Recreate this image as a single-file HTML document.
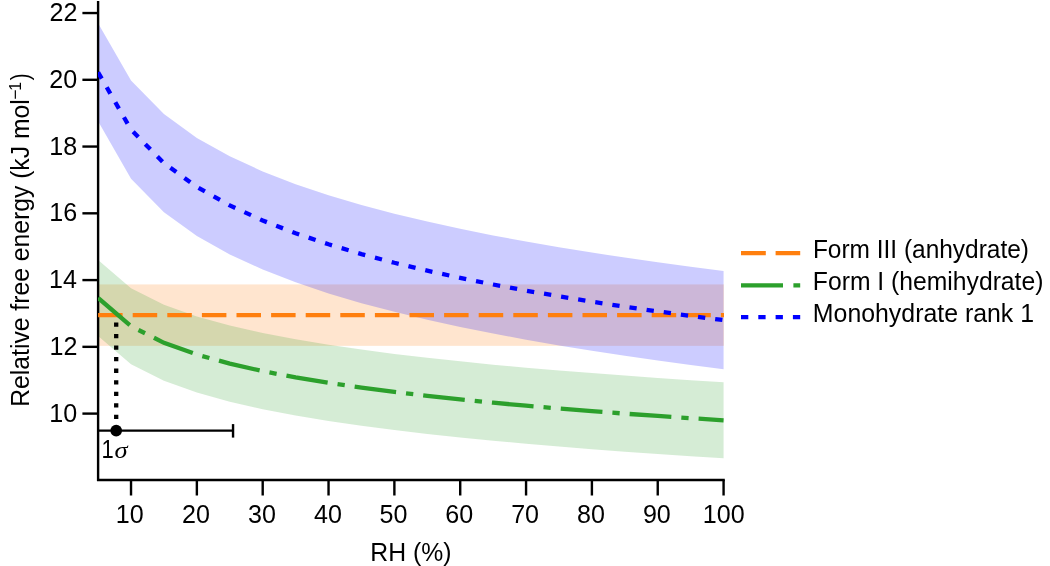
<!DOCTYPE html><html><head><meta charset="utf-8"><title>chart</title><style>html,body{margin:0;padding:0;background:#fff}svg{display:block}text{font-family:"Liberation Sans",Arial,Helvetica,sans-serif;fill:#000}</style></head><body>
<svg width="1050" height="566" viewBox="0 0 1050 566">
<rect width="1050" height="566" fill="#fff"/>
<defs><clipPath id="c"><rect x="98.1" y="0" width="625.78" height="480"/></clipPath></defs>
<g clip-path="url(#c)">
<rect x="98.10" y="284.42" width="625.78" height="61.42" fill="#ff7f0e" fill-opacity="0.2"/>
<polygon points="98.10,259.89 131.02,288.19 163.94,304.75 196.86,316.50 229.78,325.61 262.70,333.06 295.62,339.35 328.54,344.80 361.46,349.61 394.38,353.92 427.30,357.81 460.22,361.36 493.14,364.63 526.06,367.66 558.98,370.47 591.90,373.11 624.82,375.59 657.74,377.92 690.66,380.13 723.58,382.22 723.58,458.33 690.66,456.23 657.74,454.03 624.82,451.69 591.90,449.22 558.98,446.58 526.06,443.76 493.14,440.74 460.22,437.47 427.30,433.92 394.38,430.02 361.46,425.72 328.54,420.91 295.62,415.46 262.70,409.16 229.78,401.72 196.86,392.61 163.94,380.86 131.02,364.30 98.10,335.99" fill="#2ca02c" fill-opacity="0.2"/>
<polygon points="98.10,23.17 131.02,80.53 163.94,114.08 196.86,137.89 229.78,156.35 262.70,171.44 295.62,184.20 328.54,195.25 361.46,204.99 394.38,213.71 427.30,221.60 460.22,228.80 493.14,235.42 526.06,241.55 558.98,247.26 591.90,252.60 624.82,257.62 657.74,262.35 690.66,266.82 723.58,271.07 723.58,369.20 690.66,364.96 657.74,360.49 624.82,355.76 591.90,350.74 558.98,345.40 526.06,339.69 493.14,333.56 460.22,326.93 427.30,319.73 394.38,311.85 361.46,303.13 328.54,293.38 295.62,282.33 262.70,269.58 229.78,254.49 196.86,236.03 163.94,212.22 131.02,178.67 98.10,121.31" fill="#0000ff" fill-opacity="0.2"/>
</g>
<path d="M98.1,1 V480 H724.8" fill="none" stroke="#000" stroke-width="2.4" stroke-linejoin="miter"/>
<g clip-path="url(#c)">
<line x1="116.2" y1="430.6" x2="116.2" y2="315.13" stroke="#000" stroke-width="4.3" stroke-dasharray="4.3,7.24"/>
<line x1="98.10" y1="315.13" x2="724.58" y2="315.13" stroke="#ff7f0e" stroke-width="4.3" stroke-dasharray="24.5,10.1"/>
<polyline points="98.10,297.94 131.02,326.25 163.94,342.80 196.86,354.55 229.78,363.66 262.70,371.11 295.62,377.40 328.54,382.86 361.46,387.67 394.38,391.97 427.30,395.86 460.22,399.42 493.14,402.68 526.06,405.71 558.98,408.53 591.90,411.16 624.82,413.64 657.74,415.97 690.66,418.18 723.58,420.28" fill="none" stroke="#2ca02c" stroke-width="4.3" stroke-dasharray="41.8,10,7.3,10"/>
<polyline points="98.10,72.24 131.02,129.60 163.94,163.15 196.86,186.96 229.78,205.42 262.70,220.51 295.62,233.26 328.54,244.31 361.46,254.06 394.38,262.78 427.30,270.67 460.22,277.87 493.14,284.49 526.06,290.62 558.98,296.33 591.90,301.67 624.82,306.69 657.74,311.42 690.66,315.89 723.58,320.14" fill="none" stroke="#0000ff" stroke-width="4.3" stroke-dasharray="7.3,10"/>
</g>
<line x1="98" y1="430.6" x2="233" y2="430.6" stroke="#000" stroke-width="2.3"/>
<line x1="233.05" y1="424.1" x2="233.05" y2="437.6" stroke="#000" stroke-width="2.4"/>
<circle cx="116.2" cy="430.6" r="5.85" fill="#000"/>
<line x1="82.4" y1="413.60" x2="98.1" y2="413.60" stroke="#000" stroke-width="2.4"/>
<text transform="translate(49.24,421.70) scale(0.9850,1)" font-size="25.5">10</text>
<line x1="82.4" y1="346.84" x2="98.1" y2="346.84" stroke="#000" stroke-width="2.4"/>
<text transform="translate(49.61,354.94) scale(0.9850,1)" font-size="25.5">12</text>
<line x1="82.4" y1="280.08" x2="98.1" y2="280.08" stroke="#000" stroke-width="2.4"/>
<text transform="translate(48.99,288.18) scale(0.9850,1)" font-size="25.5">14</text>
<line x1="82.4" y1="213.32" x2="98.1" y2="213.32" stroke="#000" stroke-width="2.4"/>
<text transform="translate(49.36,221.42) scale(0.9850,1)" font-size="25.5">16</text>
<line x1="82.4" y1="146.56" x2="98.1" y2="146.56" stroke="#000" stroke-width="2.4"/>
<text transform="translate(49.36,154.66) scale(0.9850,1)" font-size="25.5">18</text>
<line x1="82.4" y1="79.80" x2="98.1" y2="79.80" stroke="#000" stroke-width="2.4"/>
<text transform="translate(49.24,87.90) scale(0.9850,1)" font-size="25.5">20</text>
<line x1="82.4" y1="13.04" x2="98.1" y2="13.04" stroke="#000" stroke-width="2.4"/>
<text transform="translate(49.61,21.14) scale(0.9850,1)" font-size="25.5">22</text>
<line x1="131.02" y1="480" x2="131.02" y2="495.5" stroke="#000" stroke-width="2.4"/>
<text transform="translate(115.81,522.50) scale(0.9850,1)" font-size="25.5">10</text>
<line x1="196.86" y1="480" x2="196.86" y2="495.5" stroke="#000" stroke-width="2.4"/>
<text transform="translate(181.96,522.50) scale(0.9850,1)" font-size="25.5">20</text>
<line x1="262.70" y1="480" x2="262.70" y2="495.5" stroke="#000" stroke-width="2.4"/>
<text transform="translate(247.93,522.50) scale(0.9850,1)" font-size="25.5">30</text>
<line x1="328.54" y1="480" x2="328.54" y2="495.5" stroke="#000" stroke-width="2.4"/>
<text transform="translate(313.95,522.50) scale(0.9850,1)" font-size="25.5">40</text>
<line x1="394.38" y1="480" x2="394.38" y2="495.5" stroke="#000" stroke-width="2.4"/>
<text transform="translate(379.61,522.50) scale(0.9850,1)" font-size="25.5">50</text>
<line x1="460.22" y1="480" x2="460.22" y2="495.5" stroke="#000" stroke-width="2.4"/>
<text transform="translate(445.32,522.50) scale(0.9850,1)" font-size="25.5">60</text>
<line x1="526.06" y1="480" x2="526.06" y2="495.5" stroke="#000" stroke-width="2.4"/>
<text transform="translate(511.16,522.50) scale(0.9850,1)" font-size="25.5">70</text>
<line x1="591.90" y1="480" x2="591.90" y2="495.5" stroke="#000" stroke-width="2.4"/>
<text transform="translate(577.06,522.50) scale(0.9850,1)" font-size="25.5">80</text>
<line x1="657.74" y1="480" x2="657.74" y2="495.5" stroke="#000" stroke-width="2.4"/>
<text transform="translate(642.90,522.50) scale(0.9850,1)" font-size="25.5">90</text>
<line x1="723.58" y1="480" x2="723.58" y2="495.5" stroke="#000" stroke-width="2.4"/>
<text transform="translate(702.86,522.50) scale(0.9850,1)" font-size="25.5">100</text>
<text transform="translate(370.26,560.50) scale(0.9604,1)" font-size="25.8">RH (%)</text>
<g transform="translate(29,0) rotate(-90)">
<text transform="translate(-406.74,0.00) scale(0.9576,1)" font-size="25.8">Relative free energy (kJ mol</text>
<text transform="translate(-99.58,-8.20) scale(1.0017,1)" font-size="17.2">−</text>
<text transform="translate(-90.67,-8.20) scale(0.9300,1)" font-size="17.2">1</text>
<text transform="translate(-80.30,0.00) scale(0.7984,1)" font-size="25.8">)</text>
</g>
<text transform="translate(101.56,457.80) scale(0.8800,1)" font-size="25">1</text>
<text transform="translate(114.4,457.8) scale(1.13,1)" font-size="23.5" style="font-family:'Liberation Serif','DejaVu Serif',serif;font-style:italic">σ</text>
<line x1="741" y1="253.2" x2="800.2" y2="253.2" stroke="#ff7f0e" stroke-width="4.3" stroke-dasharray="24.8,9.8"/>
<line x1="741" y1="285.3" x2="800.2" y2="285.3" stroke="#2ca02c" stroke-width="4.3" stroke-dasharray="42,10.4,6.8,10"/>
<line x1="741" y1="317.05" x2="800.2" y2="317.05" stroke="#0000ff" stroke-width="4.3" stroke-dasharray="7.3,10"/>
<text transform="translate(812.88,258.20) scale(0.9487,1)" font-size="25.8">Form III (anhydrate)</text>
<text transform="translate(812.86,290.00) scale(0.9575,1)" font-size="25.8">Form I (hemihydrate)</text>
<text transform="translate(812.85,321.80) scale(0.9642,1)" font-size="25.8">Monohydrate rank 1</text>
</svg></body></html>
